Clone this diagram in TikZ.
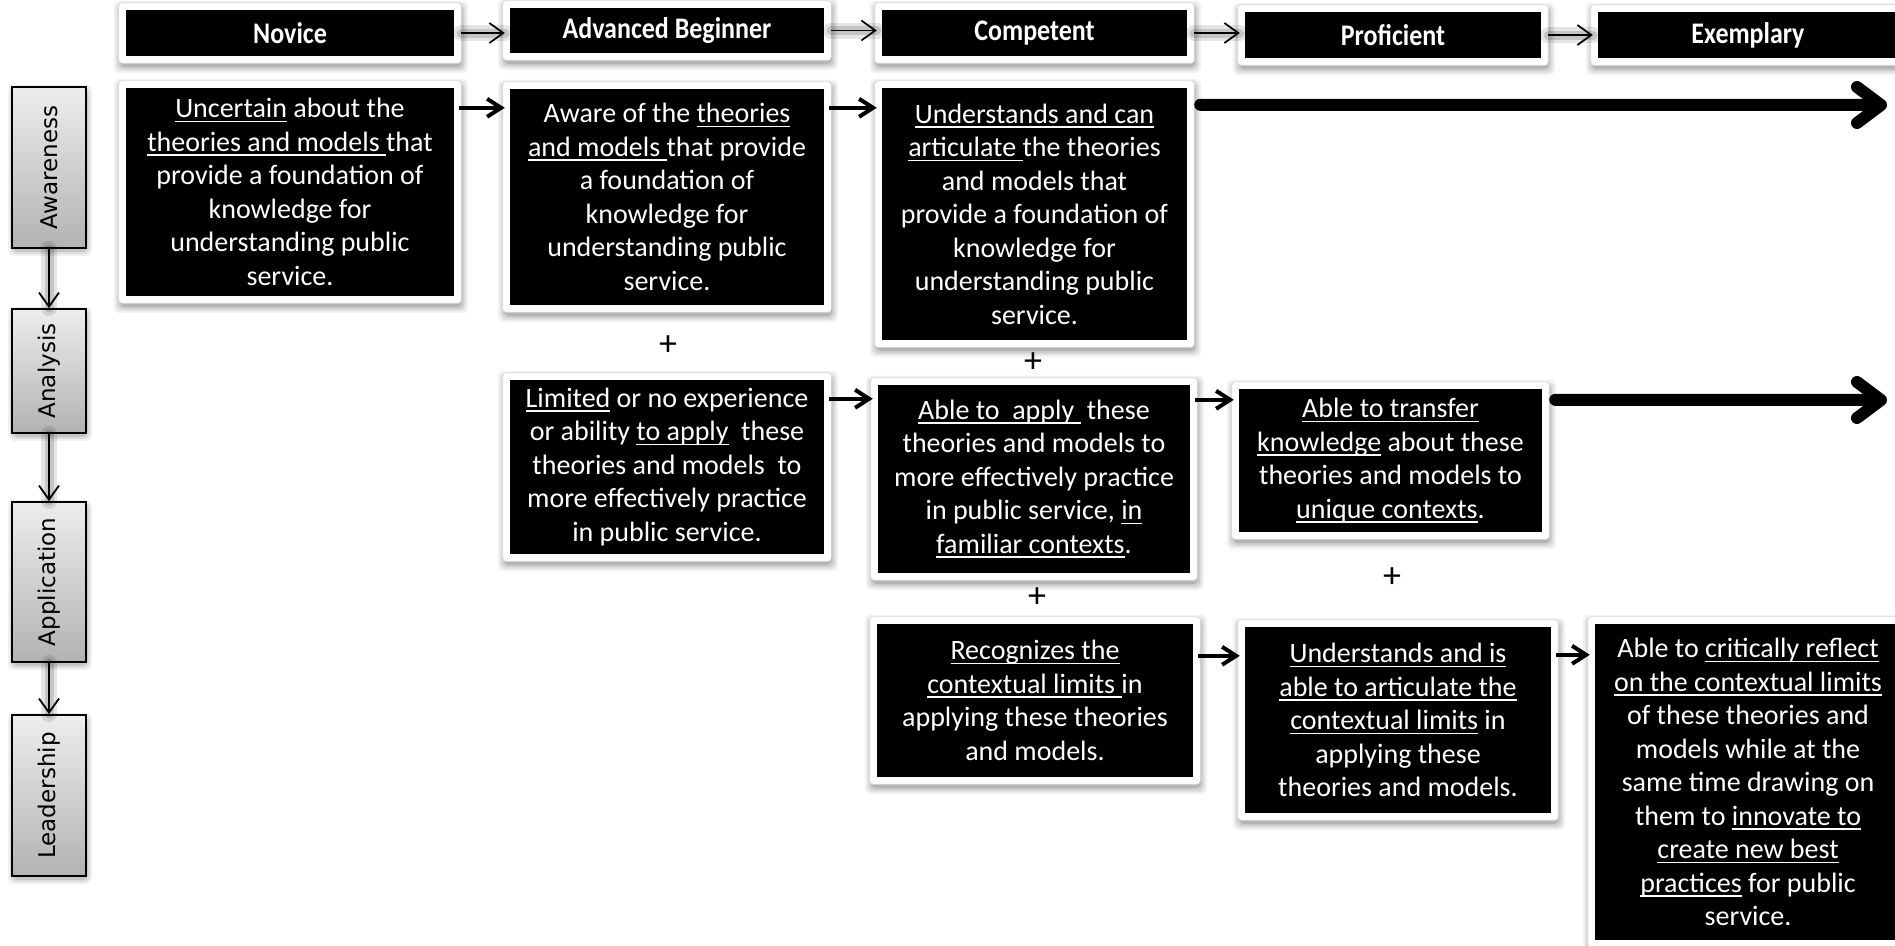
\documentclass[tikz,border=0pt]{standalone}
\usepackage{fontspec}
\setmainfont{Carlito}
\newfontfamily\labelfont{DejaVu Sans}
\usetikzlibrary{arrows.meta,backgrounds,calc}

% white underline drawn under a phrase
\newcommand{\uln}[1]{\setbox0=\hbox{#1}\rlap{\rule[-4.5pt]{\wd0}{1.5pt}}\box0\relax}

\tikzset{
  sz/.style 2 args={minimum width=#1pt, minimum height=#2pt},
  cell/.style={fill=black, text=white, inner sep=0pt, align=center,
    font=\fontsize{28}{33.5}\selectfont},
  head/.style={cell, font=\fontsize{26}{30}\selectfont\bfseries},
  frame/.style={fill=white, draw=black!14, line width=0.8pt, rounded corners=3pt},
  softshade/.style={fill=black, fill opacity=#1, draw=none, rounded corners=6pt},
  lbox/.style={draw=black, line width=1.8pt, top color=black!7, bottom color=black!30,
    minimum width=74pt, inner sep=0pt, font=\labelfont\fontsize{23}{27}\selectfont},
  glow/.style={preaction={draw=black, opacity=0.10, line width=16pt, arrows=-, line cap=round},
    preaction={draw=black, opacity=0.14, line width=9pt, arrows=-, line cap=round}},
  hdrarrow/.style={glow, line width=1.7pt,
    -{Straight Barb[length=14pt, width=20pt]}, shorten <=7pt, shorten >=5pt},
  colarrow/.style={glow, line width=1.8pt,
    -{Straight Barb[length=14pt, width=20pt]}},
  rowarrow/.style={line width=4pt, -{Straight Barb[length=14pt, width=18pt]},
    shorten <=5pt, shorten >=5pt},
  bigarrow/.style={line width=12pt, line cap=round,
    -{Straight Barb[length=24pt, width=36pt, line cap=round, line join=round]}},
  plus/.style={inner sep=0pt, font=\fontsize{36}{36}\selectfont},
}
\newcommand{\headtext}[1]{\scalebox{1}[1.15]{#1}}

\begin{document}
\begin{tikzpicture}[x=1pt, y=-1pt]
\useasboundingbox (0,0) rectangle (1895,945);
\clip (0,0) rectangle (1895,945);

% level headings
\node[head, sz={328}{46}] (H1) at (290,33) {\headtext{Novice}};
\node[head, sz={314}{45}] (H2) at (667,30.5) {\headtext{Advanced Beginner}};
\node[head, sz={305}{46}] (H3) at (1034.5,33) {\headtext{Competent}};
\node[head, sz={296}{46}] (H4) at (1393,35) {\headtext{Proficient}};
\node[head, sz={300}{46}] (H5) at (1748,35) {\headtext{Exemplary}};

% awareness row
\node[cell, sz={328}{208}] (A1) at (290,192) {\uln{Uncertain} about the\\
  \uln{theories and models\ }that\\ provide a foundation of\\ knowledge for\\
  understanding public\\ service.};
\node[cell, sz={314}{216}] (A2) at (667,197) {Aware of the \uln{theories}\\
  \uln{and models\ }that provide\\ a foundation of\\ knowledge for\\
  understanding public\\ service.};
\node[cell, sz={305}{252}] (A3) at (1034.5,214) {\uln{Understands and can}\\
  \uln{articulate\ }the theories\\ and models that\\ provide a foundation of\\
  knowledge for\\ understanding public\\ service.};

% analysis row
\node[cell, sz={314}{174}] (B2) at (667,467) {\uln{Limited} or no experience\\
  or ability \uln{to apply}\ \ these\\ theories and models\ \ to\\
  more effectively practice\\ in public service.};
\node[cell, sz={312}{188}] (B3) at (1034,479) {\uln{Able to\ \ apply\ } these\\
  theories and models to\\ more effectively practice\\
  in public service, \uln{in}\\ \uln{familiar contexts}.};
\node[cell, sz={303}{143}] (B4) at (1390.5,460.5) {\uln{Able to transfer}\\
  \uln{knowledge} about these\\ theories and models to\\ \uln{unique contexts}.};

% application / leadership row
\node[cell, sz={316}{153}] (C3) at (1035,700.5) {\uln{Recognizes the}\\
  \uln{contextual limits\ }in\\ applying these theories\\ and models.};
\node[cell, sz={306}{186}] (C4) at (1398,720) {\uln{Understands and is}\\
  \uln{able to articulate the}\\ \uln{contextual limits} in\\ applying these\\
  theories and models.};
\node[cell, sz={306}{316}] (C5) at (1748,782) {Able to \uln{critically reflect}\\
  \uln{on the contextual limits}\\ of these theories and\\ models while at the\\
  same time drawing on\\ them to \uln{innovate to}\\ \uln{create new best}\\
  \uln{practices} for public\\ service.};

% plus signs between stacked cells
\node[plus] (p1) at (668,346) {+};
\node[plus] (p2) at (1033,363) {+};
\node[plus] (p3) at (1037,598) {+};
\node[plus] (p4) at (1392,578) {+};

% dimension labels on the left
\node[lbox, minimum height=161pt] (L1) at (49,167.5) {\rotatebox{90}{Awareness}};
\node[lbox, minimum height=124pt] (L2) at (49,371) {\rotatebox{90}{Analysis}};
\node[lbox, minimum height=160pt] (L3) at (49,582) {\rotatebox{90}{Application}};
\node[lbox, minimum height=161pt] (L4) at (49,795.5) {\rotatebox{90}{Leadership}};

% white frames with soft shadows behind the cells, shadows behind the labels
\begin{scope}[on background layer]
  \foreach \n in {H1,H2,H3,H4,H5,A1,A2,A3,B2,B3,B4,C3,C4,C5} {
    \foreach \e/\o in {6/0.05,4/0.07,2/0.09,0/0.12}
      \path[softshade=\o] ($(\n.north west)+(-7-\e+1,-7-\e+4)$)
        rectangle ($(\n.south east)+(7+\e+1,7+\e+4)$);
    \path[frame] ($(\n.north west)+(-7,-7)$) rectangle ($(\n.south east)+(7,7)$);
  }
  \foreach \n in {L1,L2,L3,L4} {
    \foreach \e/\o in {4/0.06,2/0.08,0/0.10}
      \path[softshade=\o] ($(\n.north west)+(-\e+1,-\e+3)$)
        rectangle ($(\n.south east)+(\e+1,\e+3)$);
  }
\end{scope}

\draw[colarrow] (L1.south) -- (L2.north);
\draw[colarrow] (L2.south) -- (L3.north);
\draw[colarrow] (L3.south) -- (L4.north);

% heading sequence
\draw[hdrarrow] (H1.east) -- (H1.east -| H2.west);
\draw[hdrarrow] (H2.east) -- (H2.east -| H3.west);
\draw[hdrarrow] (H3.east) -- (H3.east -| H4.west);
\draw[hdrarrow] (H4.east) -- (H4.east -| H5.west);

% progressions within rows
\draw[rowarrow] ([yshift=-20pt]A1.north east) -- ([yshift=-20pt]A1.north east -| A2.west);
\draw[rowarrow] ([yshift=-19pt]A2.north east) -- ([yshift=-19pt]A2.north east -| A3.west);
\draw[rowarrow] ([yshift=-19pt]B2.north east) -- ([yshift=-19pt]B2.north east -| B3.west);
\draw[rowarrow] ([yshift=-15pt]B3.north east) -- ([yshift=-15pt]B3.north east -| B4.west);
\draw[rowarrow] ([yshift=-32pt]C3.north east) -- ([yshift=-32pt]C3.north east -| C4.west);
\draw[rowarrow] ([yshift=-28pt]C4.north east) -- ([yshift=-28pt]C4.north east -| C5.west);

% continuing progressions
\coordinate (endA) at (1887,105);
\coordinate (endB) at (1887,400);
\draw[bigarrow] ([xshift=13pt, yshift=-17pt]A3.north east) -- (endA);
\draw[bigarrow] ([xshift=13pt, yshift=-11pt]B4.north east) -- (endB);
\end{tikzpicture}
\end{document}
